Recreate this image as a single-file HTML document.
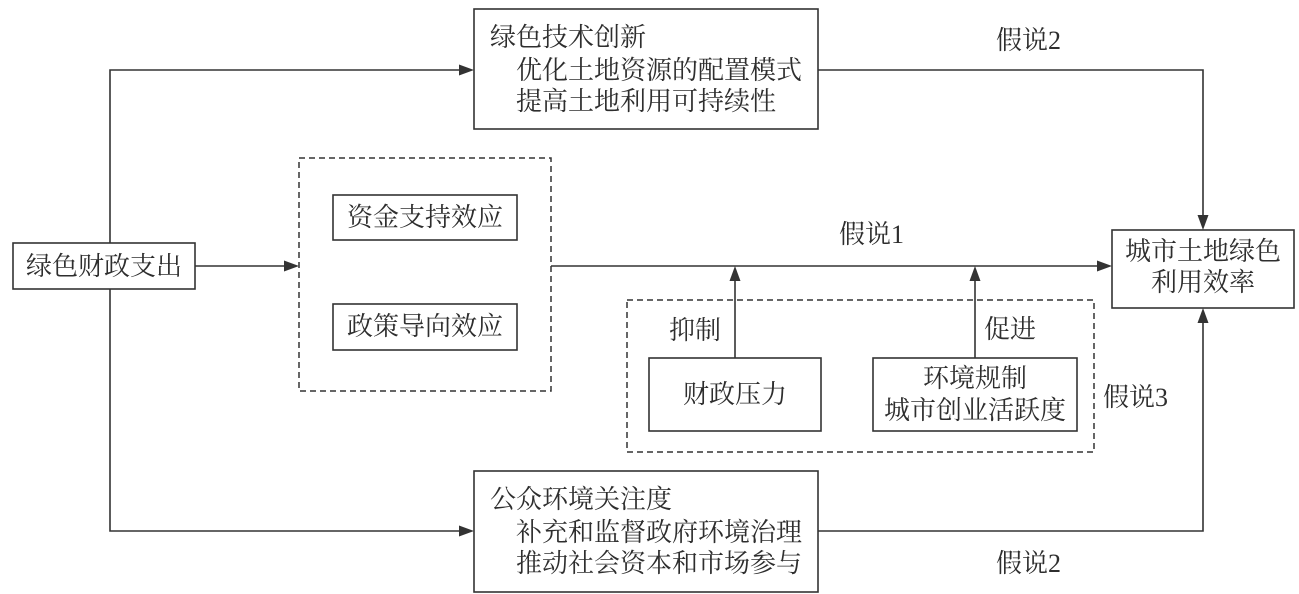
<!DOCTYPE html>
<html lang="zh">
<head>
<meta charset="utf-8">
<style>
html,body{margin:0;padding:0;background:#fff;}
svg{display:block;}
text{font-family:"Liberation Serif","Noto Serif CJK SC",serif;font-size:26px;fill:#2e2e2e;}
.b{fill:#fff;stroke:#333;stroke-width:1.6;}
.d{fill:none;stroke:#333;stroke-width:1.5;stroke-dasharray:6 4;}
.l{fill:none;stroke:#333;stroke-width:1.6;}
.a{fill:#333;stroke:none;}
</style>
</head>
<body>
<svg width="1299" height="594" viewBox="0 0 1299 594" xmlns="http://www.w3.org/2000/svg">
<rect class="b" x="474" y="9" width="344" height="120"/>
<rect class="b" x="474" y="471" width="344" height="121"/>
<rect class="b" x="13" y="243" width="182" height="46"/>
<rect class="b" x="1112" y="230" width="182" height="78"/>
<rect class="d" x="299" y="158" width="252" height="233"/>
<rect class="b" x="333" y="195" width="184" height="45"/>
<rect class="b" x="333" y="304" width="184" height="46"/>
<rect class="d" x="627" y="300" width="467" height="152"/>
<rect class="b" x="649" y="358" width="172" height="73"/>
<rect class="b" x="873" y="358" width="204" height="73"/>

<path class="l" d="M110 243V70H462"/>
<path class="a" d="M474 70l-15-5.500v11z"/>
<path class="l" d="M110 289V531H462"/>
<path class="a" d="M474 531l-15-5.500v11z"/>
<path class="l" d="M195 266H287"/>
<path class="a" d="M299 266l-15-5.500v11z"/>
<path class="l" d="M551 266H1100"/>
<path class="a" d="M1112 266l-15-5.500v11z"/>
<path class="l" d="M818 70H1203V218"/>
<path class="a" d="M1203 230l-5.500-15h11z"/>
<path class="l" d="M818 531H1203V320"/>
<path class="a" d="M1203 308l-5.500 15h11z"/>
<path class="l" d="M735 358V278"/>
<path class="a" d="M735 266l-5.500 15h11z"/>
<path class="l" d="M975 358V278"/>
<path class="a" d="M975 266l-5.500 15h11z"/>

<text x="490" y="46">绿色技术创新</text>
<text x="516" y="79">优化土地资源的配置模式</text>
<text x="516" y="110">提高土地利用可持续性</text>
<text x="490" y="508">公众环境关注度</text>
<text x="516" y="541">补充和监督政府环境治理</text>
<text x="516" y="572">推动社会资本和市场参与</text>
<text x="104" y="275" text-anchor="middle">绿色财政支出</text>
<text x="1203" y="260" text-anchor="middle">城市土地绿色</text>
<text x="1203" y="291" text-anchor="middle">利用效率</text>
<text x="425" y="226" text-anchor="middle">资金支持效应</text>
<text x="425" y="335" text-anchor="middle">政策导向效应</text>
<text x="735" y="403" text-anchor="middle">财政压力</text>
<text x="975" y="387" text-anchor="middle">环境规制</text>
<text x="975" y="419" text-anchor="middle">城市创业活跃度</text>
<text x="996" y="49">假说2</text>
<text x="839" y="243">假说1</text>
<text x="1103" y="406">假说3</text>
<text x="996" y="572">假说2</text>
<text x="669" y="339">抑制</text>
<text x="984" y="338">促进</text>
</svg>
</body>
</html>
